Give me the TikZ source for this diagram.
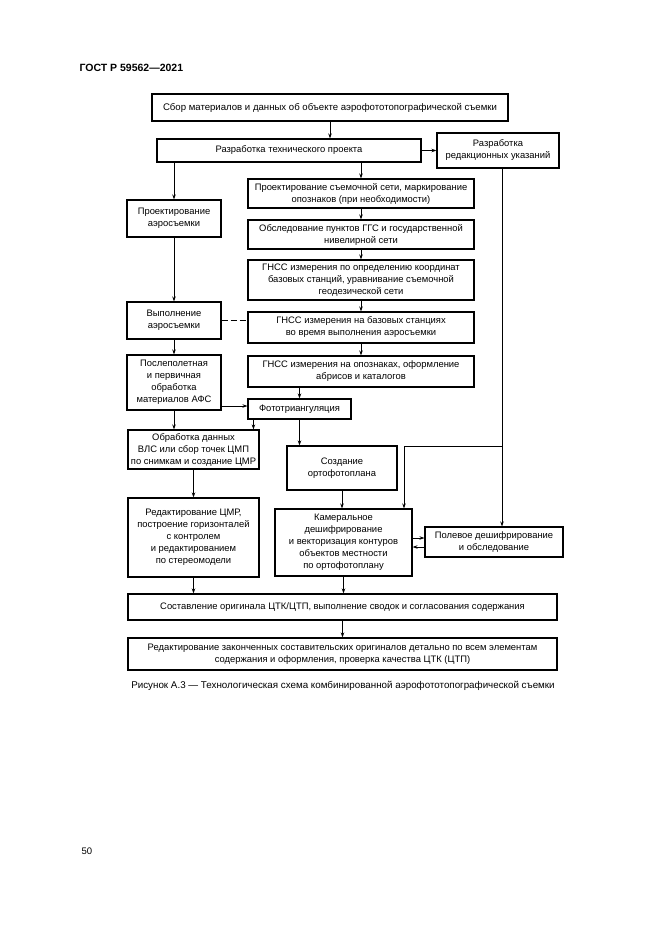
\documentclass[tikz,border=0pt]{standalone}
\usepackage{fontspec}
\setmainfont{Liberation Sans}
\usetikzlibrary{arrows.meta}
\begin{document}
\begin{tikzpicture}[x=1pt,y=-1pt,
  box/.style={draw, line width=1.1pt, align=center, inner sep=0pt, font=\fontsize{9.4}{12}\selectfont},
  arr/.style={line width=0.9pt, -{Stealth[length=5pt,width=3.5pt]}},
  ln/.style={line width=0.9pt}]
\useasboundingbox (0,0) rectangle (661,935);
\fill[white] (0,0) rectangle (661,935);
\node[anchor=west, font=\bfseries\fontsize{10.5}{12}\selectfont] (hdr) at (76,68) {ГОСТ Р 59562—2021};
\node[box, line width=1.8pt, minimum width=356pt, minimum height=27pt, font=\fontsize{9.6}{12}\selectfont] (b1) at (330,107.5) {Сбор материалов и данных об объекте аэрофототопографической съемки};
\node[box, minimum width=264pt, minimum height=23pt] (b2) at (289,150.5) {Разработка технического проекта};
\node[box, minimum width=122pt, minimum height=35pt] (b3) at (498,150.5) {Разработка\\редакционных указаний};
\node[box, minimum width=226pt, minimum height=29pt] (n1) at (361,193.5) {Проектирование съемочной сети, маркирование\\опознаков (при необходимости)};
\node[box, minimum width=226pt, minimum height=29pt] (n2) at (361,234.5) {Обследование пунктов ГГС и государственной\\нивелирной сети};
\node[box, minimum width=226pt, minimum height=40pt] (n3) at (361,280) {ГНСС измерения по определению координат\\базовых станций, уравнивание съемочной\\геодезической сети};
\node[box, minimum width=226pt, minimum height=31pt] (n4) at (361,327.5) {ГНСС измерения на базовых станциях\\во время выполнения аэросъемки};
\node[box, minimum width=226pt, minimum height=31pt] (n5) at (361,371.5) {ГНСС измерения на опознаках, оформление\\абрисов и каталогов};
\node[box, minimum width=94pt, minimum height=37pt] (pa) at (174,218.5) {Проектирование\\аэросъемки};
\node[box, minimum width=94pt, minimum height=37pt] (va) at (174,320.5) {Выполнение\\аэросъемки};
\node[box, minimum width=94pt, minimum height=55pt] (pp) at (174,382.5) {Послеполетная\\и первичная\\обработка\\материалов АФС};
\node[box, minimum width=103pt, minimum height=20pt] (ft) at (299.5,409) {Фототриангуляция};
\node[box, minimum width=131pt, minimum height=39pt] (vls) at (193.5,449.5) {Обработка данных\\ВЛС или сбор точек ЦМП\\по снимкам и создание ЦМР};
\node[box, minimum width=110pt, minimum height=44pt] (orto) at (342,468) {Создание\\ортофотоплана};
\node[box, minimum width=131pt, minimum height=79pt] (cmr) at (193.5,537.5) {Редактирование ЦМР,\\построение горизонталей\\с контролем\\и редактированием\\по стереомодели};
\node[box, minimum width=137pt, minimum height=67pt] (kam) at (343.5,542.5) {Камеральное\\дешифрирование\\и векторизация контуров\\объектов местности\\по ортофотоплану};
\node[box, minimum width=138pt, minimum height=30pt] (pol) at (494,542) {Полевое дешифрирование\\и обследование};
\node[box, minimum width=429pt, minimum height=26pt] (sost) at (342.5,607) {Составление оригинала ЦТК/ЦТП, выполнение сводок и согласования содержания};
\node[box, minimum width=429pt, minimum height=32pt] (red) at (342.5,654) {Редактирование законченных составительских оригиналов детально по всем элементам\\содержания и оформления, проверка качества ЦТК (ЦТП)};
\node[font=\fontsize{9.8}{12}\selectfont] (cap) at (343,686) {Рисунок А.3 — Технологическая схема комбинированной аэрофототопографической съемки};
\node[anchor=west, font=\fontsize{9.5}{11}\selectfont] (pg) at (78,851) {50};
% connectors
\draw[arr] (b1.south) -- (b1.south |- b2.north);
\draw[arr] (b2.east) -- (b2.east -| b3.west);
\draw[arr] (b2.south -| pa.north) -- (pa.north);
\draw[arr] (b2.south -| n1.north) -- (n1.north);
\draw[arr] (n1) -- (n2);
\draw[arr] (n2) -- (n3);
\draw[arr] (n3) -- (n4);
\draw[arr] (n4) -- (n5);
\draw[arr] (pa) -- (va);
\draw[arr] (va) -- (pp);
\draw[ln, dashed, dash pattern=on 6pt off 3pt] (va.east) -- (va.east -| n4.west);
\draw[arr] (n5.south -| ft.north) -- (ft.north);
\draw[arr] ([yshift=-23.5pt]pp.east) -- ([yshift=-23.5pt]pp.east -| ft.west);
\draw[arr] (pp.south) -- (pp.south |- vls.north);
\draw[arr] ([xshift=6pt]ft.south west) -- ([xshift=6pt]ft.south west |- vls.north);
\draw[arr] (ft.south) -- (ft.south |- orto.north);
\draw[arr] (vls) -- (cmr);
\draw[arr] (orto.south) -- (orto.south |- kam.north);
\coordinate (rv) at (502,446);
\coordinate (kx) at (404,446);
\draw[ln] (b3.south -| rv) -- (rv);
\draw[arr] (rv) -- (rv |- pol.north);
\draw[arr] (rv) -- (kx) -- (kx |- kam.north);
\draw[arr] ([yshift=4.5pt]kam.east) -- ([yshift=4.5pt]kam.east -| pol.west);
\draw[arr] ([yshift=-4.5pt]kam.east -| pol.west) -- ([yshift=-4.5pt]kam.east);
\draw[arr] (cmr.south) -- (cmr.south |- sost.north);
\draw[arr] (kam.south) -- (kam.south |- sost.north);
\draw[arr] (sost.south) -- (sost.south |- red.north);
\end{tikzpicture}
\end{document}
